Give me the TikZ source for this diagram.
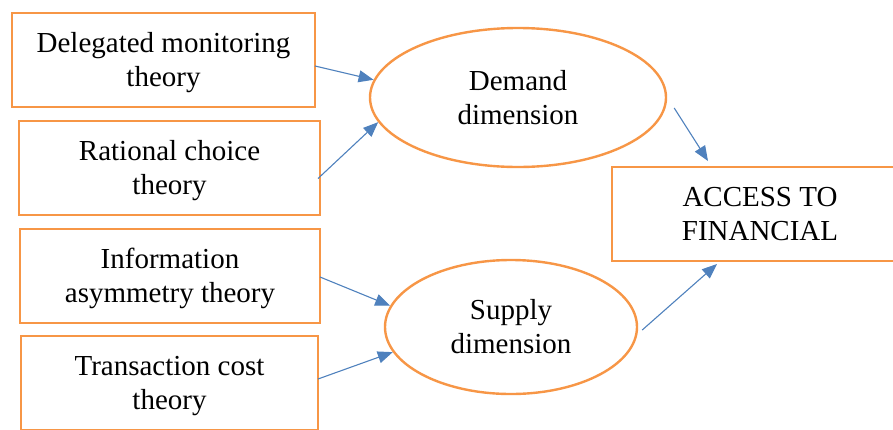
\documentclass[tikz,border=0pt]{standalone}
\usepackage{fontspec}
\setmainfont{Liberation Serif}
\usetikzlibrary{arrows.meta,positioning,shapes.geometric}
\definecolor{boxorange}{HTML}{F79646}
\definecolor{arrowblue}{HTML}{4F81BD}
\tikzset{
  theorybox/.style={
    draw=boxorange,
    line width=2.4pt,
    minimum width=301pt,
    minimum height=94pt,
    inner sep=0pt,
    outer sep=0pt,
    align=center,
    font=\fontsize{29}{34}\selectfont,
    fill=white
  },
  lowtext/.style={text height=60pt},
  dimension/.style={
    ellipse,
    draw=boxorange,
    line width=2.4pt,
    inner sep=0pt,
    align=center,
    font=\fontsize{29}{34}\selectfont,
    fill=white
  },
  link/.style={-{Triangle[length=15pt,width=12pt]}, line width=1.1pt, draw=arrowblue}
}
\begin{document}
\begin{tikzpicture}[x=1pt,y=-1pt]
\useasboundingbox (0,0) rectangle (893,429);

% Theories
\node[theorybox, lowtext, minimum width=303pt] (delegated) at (163.5,60) {Delegated monitoring\\theory};
\node[theorybox, lowtext, below=14pt of delegated, xshift=6pt] (rational) {Rational choice\\theory};
\node[theorybox, lowtext, below=14pt of rational, xshift=0.5pt, minimum width=300pt] (asymmetry) {Information\\asymmetry theory};
\node[theorybox, lowtext, below=13pt of asymmetry, xshift=-0.5pt, minimum width=297pt] (transaction) {Transaction cost\\theory};

% Dimensions
\node[dimension, minimum width=296pt, minimum height=139pt] (demand) at (518,97.5) {Demand\\dimension};
\node[dimension, minimum width=252pt, minimum height=134pt] (supply) at (511,327) {Supply\\dimension};

% Outcome
\node[theorybox, minimum width=296pt] (access) at (760,214) {ACCESS TO\\FINANCIAL};

% Links
\draw[link] ([yshift=-6pt]delegated.east) -- (demand.173);
\draw[link] ([shift={(-2pt,-10.5pt)}]rational.east) -- (demand.190);
\draw[link] ([yshift=-1pt]asymmetry.east) -- (supply.170);
\draw[link] ([yshift=4pt]transaction.east) -- (supply.192);
\draw[link] ([shift={(7pt,-10.5pt)}]demand.east) -- ([shift={(-52pt,6pt)}]access.north);
\draw[link] ([shift={(4pt,-3pt)}]supply.east) -- ([shift={(-43pt,-3pt)}]access.south);

\end{tikzpicture}
\end{document}
